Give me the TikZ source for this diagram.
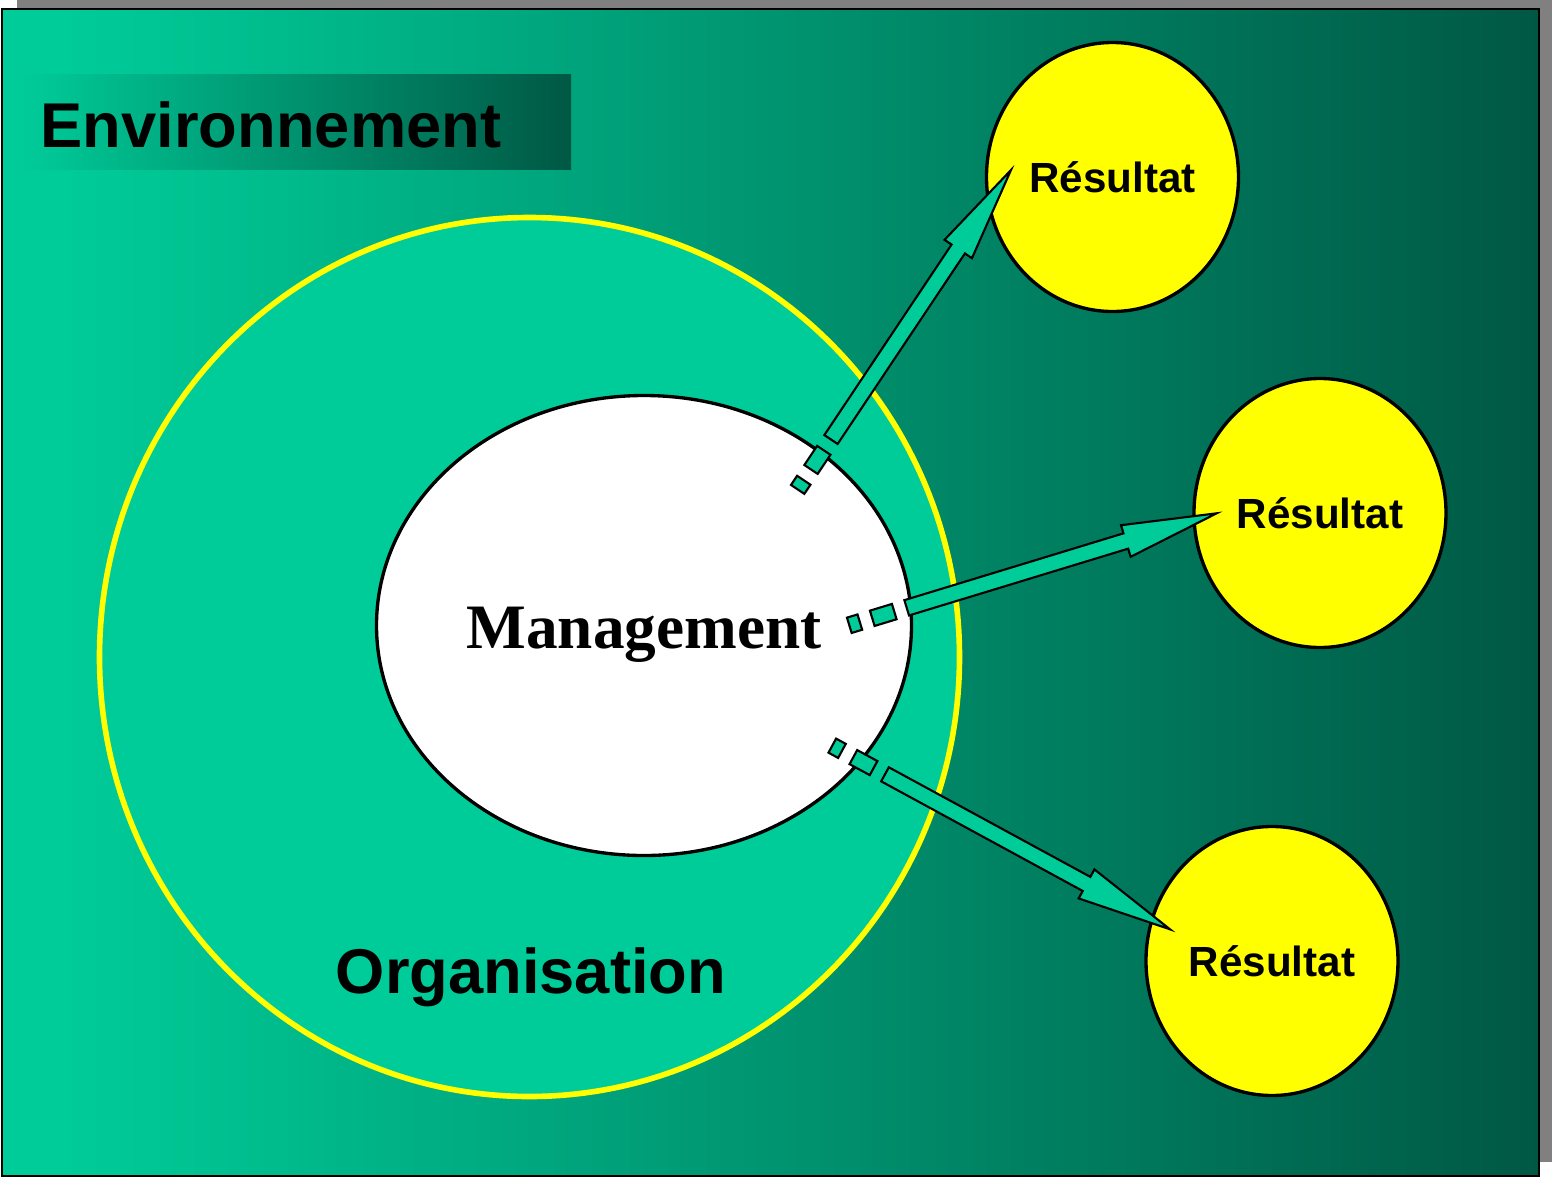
\documentclass[tikz,border=0pt]{standalone}
\usepackage{fontspec}
\setmainfont{Liberation Serif}
\setsansfont{Liberation Sans}
\usepackage{tikz}
\usetikzlibrary{calc}
\usetikzlibrary{shapes.geometric}
\usetikzlibrary{positioning}
\definecolor{envlight}{RGB}{0, 204, 153}
\definecolor{envdark}{RGB}{0, 88, 68}
\definecolor{shadowgray}{RGB}{128, 128, 128}
\definecolor{resyellow}{RGB}{255, 255, 0}

\pgfdeclarehorizontalshading{envfade}{100bp}{color(0bp)=(envlight); color(27bp)=(envlight); color(75bp)=(envdark); color(100bp)=(envdark)}

\tikzset{
  result/.style={ellipse, draw=black, line width=0.95pt, fill=resyellow, minimum width=2.52cm, minimum height=2.69cm, inner sep=0pt, font=\sffamily\bfseries\fontsize{12}{14}\selectfont},
  stripe/.style={fill=envlight, draw=black, line width=0.6pt, line join=miter},
  bigsans/.style={font=\sffamily\bfseries\fontsize{18}{22}\selectfont, inner sep=0pt},
}

% block arrow from tail #1 to tip #2, with two stripes behind the tail
\newcommand{\stripedarrow}[2]{%
  \filldraw[stripe] ($(#1)!0.08cm!90:(#2)$) -- ($(#2)!0.95cm!(#1)!0.08cm!-90:(#1)$) -- ($(#2)!0.95cm!(#1)!0.165cm!-90:(#1)$) -- (#2)
       -- ($(#2)!0.95cm!(#1)!0.165cm!90:(#1)$) -- ($(#2)!0.95cm!(#1)!0.08cm!90:(#1)$) -- ($(#1)!0.08cm!-90:(#2)$) -- cycle;
  \filldraw[stripe] ($(#1)!-0.13cm!(#2)!0.08cm!90:(#2)$) -- ($(#1)!-0.36cm!(#2)!0.08cm!90:(#2)$)
       -- ($(#1)!-0.36cm!(#2)!0.08cm!-90:(#2)$) -- ($(#1)!-0.13cm!(#2)!0.08cm!-90:(#2)$) -- cycle;
  \filldraw[stripe] ($(#1)!-0.49cm!(#2)!0.08cm!90:(#2)$) -- ($(#1)!-0.60cm!(#2)!0.08cm!90:(#2)$)
       -- ($(#1)!-0.60cm!(#2)!0.08cm!-90:(#2)$) -- ($(#1)!-0.49cm!(#2)!0.08cm!-90:(#2)$) -- cycle;
}

\begin{document}
\begin{tikzpicture}
            \useasboundingbox (0.00, 0.00) rectangle (15.52,-11.77);
            \fill[shadowgray]                                              ( 0.17, 0.00) rectangle (15.52,-11.62);
            \shadedraw[shading=envfade, draw=black, line width=0.6pt]     ( 0.02,-0.09) rectangle (15.39,-11.76);
            \shade[left color=envlight, right color=envdark]               ( 0.20,-0.74) rectangle ( 5.71,-1.69);
            \node[bigsans, anchor=base west] (envlabel) at (0.40,-1.47) {Environnement};

            \node[ellipse, draw=resyellow, line width=1.6pt, fill=envlight, minimum width=8.60cm, minimum height=8.79cm] (org) at (5.295,-6.57) {};
            \node[bigsans, anchor=base] (orglabel) at (5.31,-9.93) {Organisation};
            \node[ellipse, draw=black, line width=0.95pt, fill=white, minimum width=5.35cm, minimum height=4.60cm] (mgmt) at (6.44,-6.255) {};
            \node[anchor=base, font=\rmfamily\bfseries\fontsize{18}{22}\selectfont] (mgmtlabel) at (6.44,-6.48) {Management};

            \node[result] (res1) at (11.125,-1.77) {Résultat};
            \node[result] (res2) at (13.20,-5.13)  {Résultat};
            \node[result] (res3) at (12.72,-9.61)  {Résultat};

            \coordinate (tail1) at (8.31,-4.395);  \coordinate (tip1) at (10.11,-1.70);
            \coordinate (tail2) at (9.067,-6.078); \coordinate (tip2) at (12.167,-5.133);
            \coordinate (tail3) at (8.85,-7.743);  \coordinate (tip3) at (11.70,-9.293);
            \stripedarrow{tail1}{tip1}
            \stripedarrow{tail2}{tip2}
            \stripedarrow{tail3}{tip3}
\end{tikzpicture}
\end{document}
